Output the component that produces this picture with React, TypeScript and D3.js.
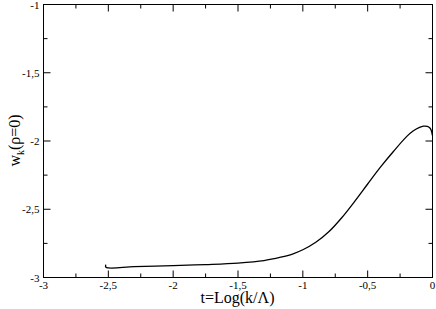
import React from 'react';
import * as d3 from 'd3';

// curve w_k(rho=0) vs t = Log(k/Lambda)
const tValues = [-2.52, -2.518, -2.3, -2.0, -1.75, -1.5, -1.3, -1.17, -1.08, -1.0, -0.9, -0.8, -0.7, -0.6, -0.5, -0.4, -0.3, -0.2, -0.15, -0.1, -0.07, -0.04, -0.02, -0.01, 0];
const wValues = [-2.905, -2.925, -2.921, -2.913, -2.905, -2.894, -2.876, -2.851, -2.828, -2.797, -2.742, -2.665, -2.562, -2.442, -2.315, -2.19, -2.075, -1.968, -1.927, -1.9, -1.891, -1.893, -1.905, -1.922, -1.96];

const xMajor = [-3, -2.5, -2, -1.5, -1, -0.5, 0];
const xMinor = [-2.75, -2.25, -1.75, -1.25, -0.75, -0.25];
const yMajor = [-3, -2.5, -2, -1.5, -1];
const yMinor = [-2.75, -2.25, -1.75, -1.25];

const W = 436;
const H = 309;
const margin = { top: 4, right: 4, bottom: 32, left: 43 };
const font = "'Liberation Serif', 'DejaVu Serif', serif";

const fmt = (v: number) => String(v).replace('.', ',');

export default function App() {
  const iw = W - margin.left - margin.right;
  const ih = H - margin.top - margin.bottom;

  const x = d3.scaleLinear().domain([-3, 0]).range([0, iw]);
  const y = d3.scaleLinear().domain([-3, -1]).range([ih, 0]);

  const pts = tValues.map((t, i) => [t, wValues[i]] as [number, number]);
  const line = d3.line<[number, number]>()
    .x(d => x(d[0]))
    .y(d => y(d[1]))
    .curve(d3.curveCatmullRom.alpha(0.5));

  const majLen = 7;
  const minLen = 4;
  const ts = { fontFamily: font };

  return (
    <div style={{ position: 'fixed', left: 0, top: 0 }}>
      <svg width={W} height={H} style={{ display: 'block', background: '#fff' }}>
        <g transform={`translate(${margin.left + 0.5},${margin.top + 0.5})`}>
          <rect x={0} y={0} width={iw} height={ih} fill="none" stroke="#000" strokeWidth={1} />

          {/* x ticks bottom + top */}
          {xMajor.map(v => (
            <g key={'xm' + v}>
              <line x1={x(v)} x2={x(v)} y1={ih} y2={ih - majLen} stroke="#000" />
              <line x1={x(v)} x2={x(v)} y1={0} y2={majLen} stroke="#000" />
              <text x={x(v)} y={ih + 11} fontSize={11} textAnchor="middle" style={ts}>{fmt(v)}</text>
            </g>
          ))}
          {xMinor.map(v => (
            <g key={'xn' + v}>
              <line x1={x(v)} x2={x(v)} y1={ih} y2={ih - minLen} stroke="#000" />
              <line x1={x(v)} x2={x(v)} y1={0} y2={minLen} stroke="#000" />
            </g>
          ))}

          {/* y ticks left + right */}
          {yMajor.map(v => (
            <g key={'ym' + v}>
              <line x1={0} x2={majLen} y1={y(v)} y2={y(v)} stroke="#000" />
              <line x1={iw} x2={iw - majLen} y1={y(v)} y2={y(v)} stroke="#000" />
              <text x={-4} y={y(v) + 4} fontSize={11} textAnchor="end" style={ts}>{fmt(v)}</text>
            </g>
          ))}
          {yMinor.map(v => (
            <g key={'yn' + v}>
              <line x1={0} x2={minLen} y1={y(v)} y2={y(v)} stroke="#000" />
              <line x1={iw} x2={iw - minLen} y1={y(v)} y2={y(v)} stroke="#000" />
            </g>
          ))}

          <path d={line(pts) || ''} fill="none" stroke="#000" strokeWidth={1.3} />
        </g>

        <text x={margin.left + iw / 2} y={H - 6} fontSize={16} textAnchor="middle" style={ts}>t=Log(k/Λ)</text>
        <text transform={`translate(20,${margin.top + ih / 2}) rotate(-90)`} fontSize={16} textAnchor="middle" style={ts}>
          w<tspan fontSize={10} dy={4}>k</tspan><tspan dy={-4}>(ρ=0)</tspan>
        </text>
      </svg>
    </div>
  );
}
